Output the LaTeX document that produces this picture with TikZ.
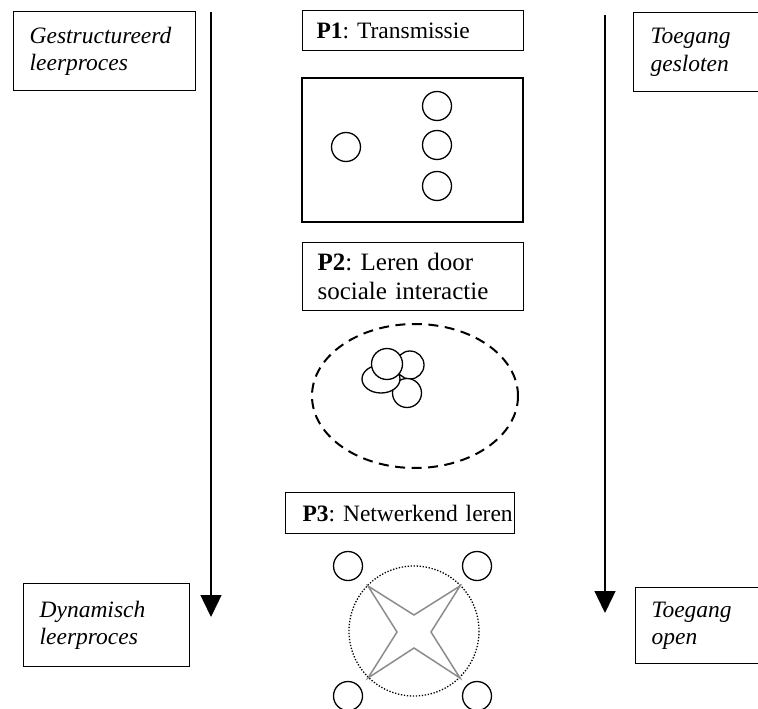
\documentclass[tikz,border=0pt]{standalone}
\usepackage{fontspec}
\setmainfont{Liberation Serif}
\usetikzlibrary{arrows.meta}

\newcommand{\boxfont}{\fontsize{23.5}{27.5}\selectfont\frenchspacing}
\newcommand{\bigboxfont}{\fontsize{25}{29}\selectfont\frenchspacing}

\begin{document}
\begin{tikzpicture}[x=1pt, y=-1pt,
    box/.style={draw, line width=1.2pt, anchor=north west, align=left,
                font=\boxfont, inner ysep=0pt},
    pole/.style={box, font=\boxfont\itshape},
    axis/.style={line width=1.4pt, -{Triangle[width=21pt,length=22pt]}},
    pupil/.style={draw, line width=1.3pt, fill=white},
    star/.style={draw=black!45, line width=1.5pt, line join=miter}]

    \useasboundingbox (0,0) rectangle (758,709);

    %----- LEFT AXIS -----
    \node[pole, text width=150pt, inner xsep=16pt, minimum width=182pt, minimum height=79pt]
        (gestr) at (13,11) {Gestructureerd\\leerproces};
    \node[pole, text width=134pt, inner xsep=16pt, minimum width=166pt, minimum height=83pt]
        (dynam) at (23,583) {Dynamisch\\leerproces};
    \coordinate (ltop) at (211,12);
    \coordinate (lbot) at (211,617);
    \draw[axis] (ltop) -- (lbot);

    %----- RIGHT AXIS -----
    \node[pole, text width=148pt, inner xsep=17pt, minimum width=182pt, minimum height=79pt]
        (dicht) at (633,12) {Toegang\\gesloten};
    \node[pole, text width=150pt, inner xsep=16pt, minimum width=182pt, minimum height=76pt]
        (open) at (635,587) {Toegang\\open};
    \coordinate (rtop) at (605,15);
    \coordinate (rbot) at (605,613);
    \draw[axis] (rtop) -- (rbot);

    %----- P1 -----
    \node[box, text width=193pt, inner xsep=14pt, minimum width=221pt, minimum height=40pt]
        (p1) at (302,10) {\textbf{P1}: Transmissie};
    \draw[line width=1.2pt] (302,78) rectangle (523,222);
    \draw[pupil] (346,147) circle [radius=14.5];
    \foreach \y in {106,145,186}
        \draw[pupil] (437,\y) circle [radius=14.5];

    %----- P2 -----
    \node[box, font=\bigboxfont, text width=191pt, inner xsep=15pt, minimum width=221pt, minimum height=68pt]
        (p2) at (302,242) {\textbf{P2}: Leren door\\sociale interactie};
    \draw[line width=2pt, dash pattern=on 10pt off 6.5pt] (415,396) ellipse [x radius=103, y radius=72];
    % cluster of pupils
    \draw[pupil] (410,365) circle [radius=14];
    \draw[pupil] (407,393) circle [radius=14.5];
    \draw[pupil] (381,379) ellipse [x radius=19, y radius=14];
    \draw[pupil] (387,364) circle [radius=15.5];

    %----- P3 -----
    \node[box, text width=195pt, inner xsep=17pt, minimum width=229pt, minimum height=41pt]
        (p3) at (285,492) {\mbox{\textbf{P3}: Netwerkend leren}};
    \draw[line width=1.3pt, dash pattern=on 1.3pt off 1.7pt] (414,631) circle [radius=65];
    \draw[star] (368,586) -- (414,615) -- (460,586) -- (431,632) -- (460,678)
        -- (414,648) -- (368,678) -- (397,632) -- cycle;
    \foreach \x in {348,477}
        \foreach \y in {566,696}
            \draw[pupil] (\x,\y) circle [radius=14.5];

\end{tikzpicture}
\end{document}
